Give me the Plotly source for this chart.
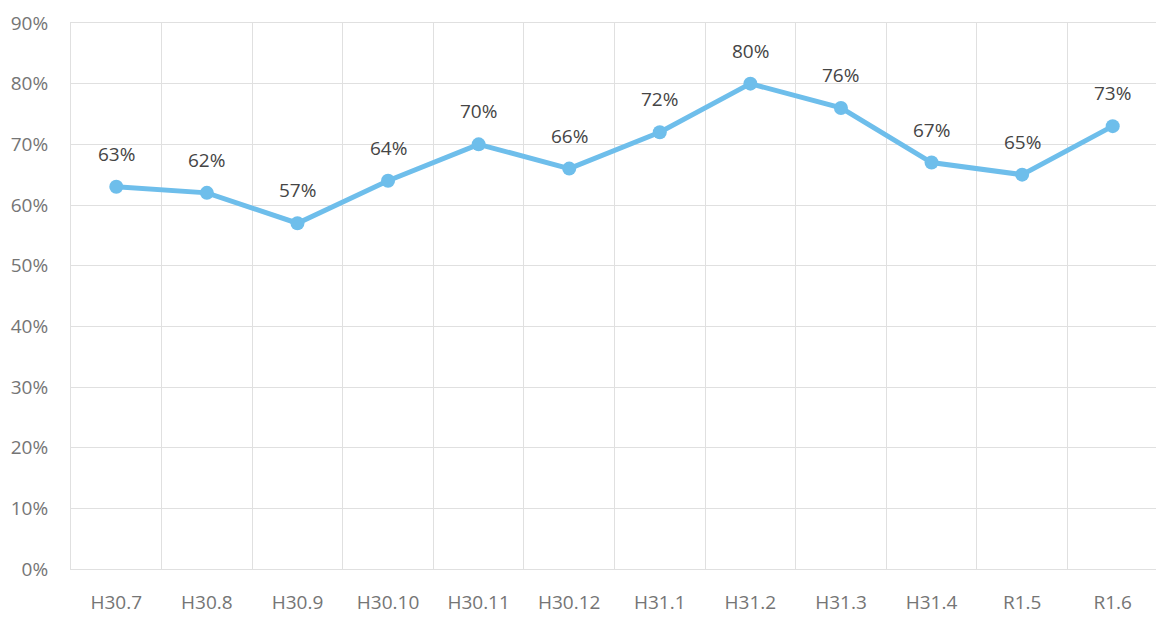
import plotly.graph_objects as go

categories = ["H30.7", "H30.8", "H30.9", "H30.10", "H30.11", "H30.12",
              "H31.1", "H31.2", "H31.3", "H31.4", "R1.5", "R1.6"]
values = [63, 62, 57, 64, 70, 66, 72, 80, 76, 67, 65, 73]
y_ticks = [0, 10, 20, 30, 40, 50, 60, 70, 80, 90]
y_tick_labels = [f"{v}%" for v in y_ticks]
point_labels = [f"{v}%" for v in values]

line_color = "#6EBEEB"
font_family = "Open Sans, sans-serif"

fig = go.Figure()
fig.add_trace(go.Scatter(
    x=categories, y=values,
    mode="lines+markers",
    line=dict(color=line_color, width=5),
    marker=dict(color=line_color, size=14),
    cliponaxis=False,
    showlegend=False,
))

for c, v, t in zip(categories, values, point_labels):
    fig.add_annotation(
        x=c, y=v, text=t, showarrow=False,
        yshift=33,
        font=dict(family=font_family, size=19, color="#454545"),
    )

fig.update_layout(
    width=1164, height=617,
    margin=dict(l=63, r=14, t=15, b=56),
    paper_bgcolor="white",
    plot_bgcolor="white",
    font=dict(family=font_family, size=19, color="#757575"),
)
fig.update_xaxes(
    type="category",
    range=[-0.5, 11.5],
    automargin=False,
    tickson="boundaries",
    showgrid=True, gridcolor="#E0E0E0", gridwidth=1,
    showline=True, linecolor="#E0E0E0", mirror=True,
    ticks="", ticklabelstandoff=16,
    tickfont=dict(size=19, color="#757575"),
)
fig.update_yaxes(
    range=[0, 90],
    automargin=False,
    tickvals=y_ticks, ticktext=y_tick_labels,
    ticklabeloverflow="allow",
    showgrid=True, gridcolor="#E0E0E0", gridwidth=1,
    zeroline=False,
    showline=True, linecolor="#E0E0E0", mirror=True,
    ticks="outside", ticklen=18, tickcolor="rgba(0,0,0,0)",
    tickfont=dict(size=19, color="#757575"),
)

fig.write_html("out.html")
